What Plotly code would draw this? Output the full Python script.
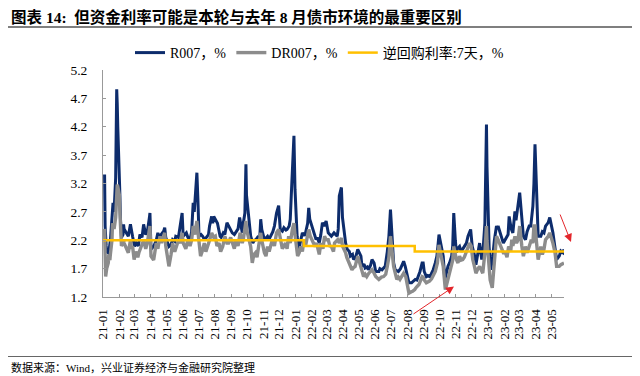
import plotly.graph_objects as go

# ---------------- data ----------------
r007_dates = [
    "2021-01-04","2021-01-05","2021-01-07","2021-01-08","2021-01-11","2021-01-13","2021-01-15","2021-01-18","2021-01-19","2021-01-20","2021-01-21","2021-01-22","2021-01-25","2021-01-26","2021-01-27","2021-01-28","2021-01-29","2021-02-01","2021-02-02","2021-02-03","2021-02-05",
    "2021-02-08","2021-02-09","2021-02-10","2021-02-18","2021-02-22","2021-02-24","2021-02-26",
    "2021-03-02","2021-03-05","2021-03-09","2021-03-12","2021-03-16","2021-03-19","2021-03-23","2021-03-26","2021-03-30","2021-03-31",
    "2021-04-02","2021-04-07","2021-04-12","2021-04-15","2021-04-19","2021-04-21","2021-04-26","2021-04-28","2021-04-30",
    "2021-05-06","2021-05-10","2021-05-13","2021-05-17","2021-05-19","2021-05-24","2021-05-27","2021-05-31",
    "2021-06-02","2021-06-08","2021-06-11","2021-06-15","2021-06-18","2021-06-21","2021-06-23","2021-06-25","2021-06-28","2021-06-30",
    "2021-07-02","2021-07-06","2021-07-09","2021-07-13","2021-07-15","2021-07-20","2021-07-22","2021-07-26","2021-07-28","2021-07-30",
    "2021-08-03","2021-08-06","2021-08-11","2021-08-13","2021-08-17","2021-08-20","2021-08-24","2021-08-27","2021-08-31",
    "2021-09-03","2021-09-07","2021-09-09","2021-09-14","2021-09-17","2021-09-22","2021-09-24","2021-09-27","2021-09-29","2021-09-30",
    "2021-10-08","2021-10-12","2021-10-15","2021-10-18","2021-10-21","2021-10-25","2021-10-27","2021-10-29",
    "2021-11-03","2021-11-09","2021-11-12","2021-11-15","2021-11-19","2021-11-22","2021-11-26","2021-11-30",
    "2021-12-03","2021-12-07","2021-12-10","2021-12-14","2021-12-16","2021-12-20","2021-12-22","2021-12-24","2021-12-27","2021-12-29","2021-12-31",
    "2022-01-04","2022-01-07","2022-01-11","2022-01-14","2022-01-18","2022-01-20","2022-01-24","2022-01-26","2022-01-28",
    "2022-02-07","2022-02-09","2022-02-11","2022-02-15","2022-02-18","2022-02-21","2022-02-24","2022-02-28",
    "2022-03-04","2022-03-08","2022-03-10","2022-03-15","2022-03-18","2022-03-21","2022-03-23","2022-03-25","2022-03-29","2022-03-31",
    "2022-04-06","2022-04-09","2022-04-13","2022-04-15","2022-04-19","2022-04-21","2022-04-25","2022-04-29",
    "2022-05-05","2022-05-07","2022-05-11","2022-05-13","2022-05-17","2022-05-19","2022-05-23","2022-05-26","2022-05-30",
    "2022-06-02","2022-06-08","2022-06-10","2022-06-14","2022-06-17","2022-06-20","2022-06-24","2022-06-27","2022-06-30",
    "2022-07-04","2022-07-06","2022-07-09","2022-07-13","2022-07-15","2022-07-19","2022-07-21","2022-07-25","2022-07-28",
    "2022-08-01","2022-08-04","2022-08-09","2022-08-12","2022-08-16","2022-08-19","2022-08-22","2022-08-25","2022-08-29","2022-08-31",
    "2022-09-02","2022-09-06","2022-09-09","2022-09-13","2022-09-16","2022-09-19","2022-09-23","2022-09-26","2022-09-28","2022-09-30",
    "2022-10-08","2022-10-11","2022-10-14","2022-10-17","2022-10-20","2022-10-24","2022-10-26","2022-10-28","2022-10-31",
    "2022-11-02","2022-11-04","2022-11-08","2022-11-11","2022-11-14","2022-11-17","2022-11-21","2022-11-24","2022-11-29",
    "2022-12-02","2022-12-06","2022-12-09","2022-12-13","2022-12-16","2022-12-20","2022-12-23","2022-12-26","2022-12-27","2022-12-29","2022-12-30",
    "2023-01-03","2023-01-06","2023-01-10","2023-01-13","2023-01-17","2023-01-19","2023-01-20","2023-01-30",
    "2023-02-03","2023-02-08","2023-02-10","2023-02-14","2023-02-17","2023-02-21","2023-02-23","2023-02-27","2023-03-02",
    "2023-03-06","2023-03-09","2023-03-13","2023-03-16","2023-03-20","2023-03-23","2023-03-27","2023-03-29","2023-03-31",
    "2023-04-04","2023-04-06","2023-04-11","2023-04-14","2023-04-17","2023-04-20","2023-04-25","2023-04-28",
    "2023-05-04","2023-05-08","2023-05-11","2023-05-16","2023-05-19","2023-05-23","2023-05-25",
]
r007_values = [
    3.36,2.45,2.10,2.00,1.98,2.05,2.20,2.60,2.70,2.86,2.80,2.70,3.30,4.00,4.86,4.60,4.20,3.50,3.00,2.60,2.25,
    2.30,2.48,2.40,2.27,2.48,2.35,2.27,
    2.09,2.15,2.10,2.30,2.25,2.48,2.30,2.35,2.60,2.68,
    2.04,2.09,2.20,2.33,2.22,2.30,2.36,2.42,2.25,
    2.09,2.12,2.21,2.18,2.27,2.25,2.45,2.68,
    2.27,2.33,2.25,2.21,2.35,2.86,2.70,2.95,3.39,2.90,
    2.27,2.30,2.27,2.20,2.24,2.30,2.45,2.62,2.50,2.62,
    2.55,2.50,2.27,2.25,2.33,2.30,2.51,2.45,2.40,
    2.33,2.30,2.33,2.40,2.60,2.33,2.50,2.68,3.54,3.00,
    2.27,2.15,2.20,2.21,2.25,2.21,2.57,2.39,
    2.21,2.27,2.22,2.27,2.35,2.45,2.68,2.81,
    2.39,2.36,2.42,2.38,2.39,2.45,2.57,3.00,3.80,4.04,3.10,
    2.27,2.04,2.20,2.33,2.28,2.33,2.50,2.77,2.57,
    2.27,2.21,2.25,2.15,2.30,2.51,2.45,2.54,
    2.33,2.30,2.27,2.33,2.30,2.27,2.40,2.98,3.13,2.60,
    2.15,2.04,2.00,1.92,1.95,1.86,1.90,2.04,
    1.92,1.74,1.78,1.71,1.73,1.68,1.75,1.86,1.80,
    1.65,1.65,1.70,1.68,1.72,1.74,2.00,2.27,2.74,
    1.98,1.80,1.68,1.66,1.65,1.70,1.74,1.83,1.74,
    1.60,1.45,1.45,1.48,1.51,1.50,1.56,1.65,1.80,1.80,
    1.65,1.56,1.58,1.56,1.62,1.68,1.80,1.92,2.10,2.30,
    1.92,1.51,1.62,1.74,1.80,1.92,2.10,2.68,2.20,
    1.98,2.05,2.09,2.00,2.04,2.10,2.15,2.27,2.39,
    2.09,1.95,1.77,2.00,2.15,1.86,2.09,2.50,3.27,4.24,3.50,
    2.09,1.68,1.92,2.20,2.45,2.40,2.45,2.15,
    2.21,2.30,2.62,2.40,2.33,2.71,2.55,2.80,3.04,
    2.60,2.27,2.21,2.35,2.45,2.45,2.80,3.20,3.89,
    2.60,2.27,2.27,2.35,2.33,2.45,2.51,2.60,
    2.33,2.09,1.86,1.92,2.01,1.98,2.04,
]

dr007_dates = [
    "2021-01-04","2021-01-05","2021-01-06","2021-01-08","2021-01-11","2021-01-12","2021-01-14","2021-01-15","2021-01-18","2021-01-19","2021-01-21","2021-01-22","2021-01-25","2021-01-26","2021-01-27","2021-01-28","2021-01-29","2021-02-01","2021-02-02","2021-02-03","2021-02-05",
    "2021-02-08","2021-02-09","2021-02-10","2021-02-18","2021-02-22","2021-02-24","2021-02-26",
    "2021-03-01","2021-03-04","2021-03-08","2021-03-10","2021-03-15","2021-03-19","2021-03-23","2021-03-26","2021-03-31",
    "2021-04-02","2021-04-07","2021-04-12","2021-04-15","2021-04-19","2021-04-22","2021-04-28","2021-04-30",
    "2021-05-06","2021-05-10","2021-05-13","2021-05-17","2021-05-20","2021-05-24","2021-05-27","2021-05-31",
    "2021-06-02","2021-06-07","2021-06-11","2021-06-15","2021-06-18","2021-06-21","2021-06-24","2021-06-28","2021-06-30",
    "2021-07-02","2021-07-05","2021-07-08","2021-07-12","2021-07-15","2021-07-19","2021-07-22","2021-07-26","2021-07-30",
    "2021-08-02","2021-08-05","2021-08-09","2021-08-12","2021-08-16","2021-08-20","2021-08-24","2021-08-27","2021-08-31",
    "2021-09-03","2021-09-07","2021-09-10","2021-09-14","2021-09-18","2021-09-22","2021-09-24","2021-09-29","2021-09-30",
    "2021-10-08","2021-10-11","2021-10-14","2021-10-17","2021-10-20","2021-10-23","2021-10-27","2021-10-29",
    "2021-11-03","2021-11-06","2021-11-09","2021-11-12","2021-11-18","2021-11-22","2021-11-26","2021-11-30",
    "2021-12-03","2021-12-07","2021-12-13","2021-12-16","2021-12-19","2021-12-22","2021-12-26","2021-12-29","2021-12-31",
    "2022-01-05","2022-01-08","2022-01-11","2022-01-14","2022-01-17","2022-01-20","2022-01-26","2022-01-29",
    "2022-02-07","2022-02-10","2022-02-12","2022-02-15","2022-02-18","2022-02-22","2022-02-25","2022-02-28",
    "2022-03-04","2022-03-07","2022-03-10","2022-03-14","2022-03-16","2022-03-22","2022-03-25","2022-03-29","2022-03-31",
    "2022-04-06","2022-04-08","2022-04-12","2022-04-15","2022-04-18","2022-04-21","2022-04-24","2022-04-29",
    "2022-05-05","2022-05-10","2022-05-13","2022-05-16","2022-05-20","2022-05-26","2022-05-30",
    "2022-06-02","2022-06-08","2022-06-13","2022-06-17","2022-06-21","2022-06-24","2022-06-27","2022-06-30",
    "2022-07-04","2022-07-06","2022-07-12","2022-07-15","2022-07-18","2022-07-22","2022-07-25","2022-07-29",
    "2022-08-02","2022-08-04","2022-08-08","2022-08-11","2022-08-15","2022-08-17","2022-08-23","2022-08-26","2022-08-29","2022-08-31",
    "2022-09-02","2022-09-06","2022-09-12","2022-09-16","2022-09-21","2022-09-23","2022-09-27","2022-09-30",
    "2022-10-08","2022-10-12","2022-10-14","2022-10-17","2022-10-20","2022-10-23","2022-10-26","2022-10-28","2022-10-31",
    "2022-11-02","2022-11-05","2022-11-08","2022-11-11","2022-11-14","2022-11-17","2022-11-20","2022-11-24","2022-11-27","2022-11-30",
    "2022-12-03","2022-12-06","2022-12-09","2022-12-13","2022-12-16","2022-12-19","2022-12-22","2022-12-26","2022-12-29","2022-12-30",
    "2023-01-03","2023-01-05","2023-01-09","2023-01-12","2023-01-15","2023-01-17","2023-01-20","2023-01-30",
    "2023-02-03","2023-02-06","2023-02-09","2023-02-13","2023-02-15","2023-02-17","2023-02-21","2023-02-24","2023-02-27","2023-03-02",
    "2023-03-06","2023-03-09","2023-03-13","2023-03-16","2023-03-20","2023-03-24","2023-03-27","2023-03-29","2023-03-31",
    "2023-04-04","2023-04-06","2023-04-11","2023-04-14","2023-04-17","2023-04-20","2023-04-25","2023-04-28",
    "2023-05-04","2023-05-08","2023-05-11","2023-05-16","2023-05-19","2023-05-23","2023-05-25",
]
dr007_values = [
    2.40,1.90,1.56,1.70,1.80,1.95,1.85,1.95,2.20,2.50,2.45,2.40,2.60,2.90,3.10,3.18,3.15,3.00,2.70,2.50,2.10,
    2.15,2.20,2.15,1.98,2.20,2.05,2.10,
    1.86,2.00,1.90,1.98,2.10,2.20,2.05,2.15,2.45,
    1.92,1.85,2.15,2.05,2.27,2.15,2.33,2.10,
    1.74,1.95,2.15,2.00,2.10,2.20,2.15,2.33,
    2.15,2.05,2.21,2.10,2.20,2.45,2.30,2.54,2.35,
    2.10,1.92,2.00,2.15,2.00,2.10,2.20,2.33,2.25,
    2.27,2.10,2.15,2.00,2.09,2.27,2.15,2.15,2.25,
    2.15,2.05,2.21,2.10,2.33,2.15,2.21,2.54,2.40,
    2.09,1.80,1.95,1.98,1.90,2.09,2.33,2.20,
    1.98,1.92,2.09,2.00,2.21,2.10,2.33,2.39,
    2.21,2.05,2.15,2.05,2.27,2.15,2.39,2.50,2.30,
    1.92,1.98,2.09,2.00,2.21,2.10,2.39,2.27,
    2.09,2.15,2.04,1.95,2.15,2.05,2.27,2.21,
    2.21,2.10,2.09,2.00,2.15,2.21,2.15,2.24,2.10,
    1.98,1.90,1.80,1.75,1.68,1.72,1.74,1.92,
    1.74,1.56,1.60,1.56,1.62,1.68,1.62,
    1.56,1.51,1.55,1.56,1.60,1.74,1.90,2.27,
    1.90,1.74,1.51,1.55,1.51,1.58,1.62,1.56,
    1.40,1.27,1.29,1.30,1.33,1.36,1.42,1.50,1.56,1.55,
    1.50,1.45,1.48,1.52,1.62,1.65,1.80,2.12,
    1.74,1.33,1.40,1.51,1.60,1.74,1.85,2.09,1.95,
    1.86,1.80,1.92,1.85,1.86,1.90,1.98,2.05,2.15,2.10,
    1.86,1.75,1.62,1.70,1.74,1.68,1.62,1.98,2.45,2.20,
    1.74,1.50,1.36,1.74,1.95,2.27,2.21,1.98,
    1.98,1.90,2.09,2.00,2.21,2.10,2.27,2.15,2.21,2.45,
    2.10,1.92,2.09,1.98,2.09,2.21,2.15,2.45,2.45,
    2.10,1.86,2.09,1.95,2.04,2.21,2.27,2.33,
    2.15,1.98,1.74,1.74,1.77,1.78,1.80,
]

rr_dates = ["2021-01-01", "2022-01-17", "2022-08-15", "2023-05-25"]
rr_values = [2.2, 2.1, 2.0, 2.0]

y_ticks = [1.2, 1.7, 2.2, 2.7, 3.2, 3.7, 4.2, 4.7, 5.2]

# ---------------- figure ----------------
SERIF = "Times New Roman, Liberation Serif, Noto Sans CJK SC, serif"
NAVY = "#0D2C6C"
GRAY = "#8C8C8C"
GOLD = "#FFC000"

fig = go.Figure()
fig.add_trace(go.Scatter(x=r007_dates, y=r007_values, mode="lines", name="R007，%",
                         line=dict(color=NAVY, width=3)))
fig.add_trace(go.Scatter(x=dr007_dates, y=dr007_values, mode="lines", name="DR007，%",
                         line=dict(color=GRAY, width=3.4)))
fig.add_trace(go.Scatter(x=rr_dates, y=rr_values, mode="lines", name="逆回购利率:7天，%",
                         line=dict(color=GOLD, width=2.5, shape="hv")))

# the page body adds an 8px offset, so layout is planned in page pixels minus 8
OFF = 8
W, H = 640 - OFF, 376 - OFF
L = 103 - OFF
T = 70 - OFF
R = W - (564 - OFF)
B = H - (297 - OFF)
pw, ph = W - L - R, H - T - B

def px(xp):          # page pixel -> paper x
    return (xp - OFF - L) / pw

def py(yp):          # page pixel -> paper y
    return (H - B - (yp - OFF)) / ph

fig.update_layout(
    width=W, height=H,
    margin=dict(l=L, r=R, t=T, b=B, autoexpand=False),
    paper_bgcolor="white", plot_bgcolor="white",
    font=dict(family=SERIF, color="#000000", size=12),
    showlegend=True,
    legend=dict(orientation="h", xref="container", x=(130 - OFF) / W, xanchor="left",
                yref="container", y=1 - (53 - OFF) / H, yanchor="middle",
                font=dict(family=SERIF, size=14), bgcolor="rgba(0,0,0,0)",
                itemwidth=30, tracegroupgap=0),
    xaxis=dict(type="date", range=["2021-01-01", "2023-05-25"], automargin=False,
               tick0="2021-01-01", dtick="M1", tickformat="%y-%m", tickangle=-90,
               ticks="inside", ticklen=3, tickcolor="#999999",
               showline=True, linecolor="#999999", linewidth=1,
               showgrid=False, zeroline=False,
               tickfont=dict(family=SERIF, size=13, color="#000000"),
               ticklabelstandoff=6),
    yaxis=dict(range=[1.2, 5.2], tickvals=y_ticks, ticktext=[f"{v:.1f}" for v in y_ticks],
               automargin=False,
               ticks="inside", ticklen=3, tickcolor="#999999",
               showline=True, linecolor="#999999", linewidth=1,
               showgrid=False, zeroline=False,
               tickfont=dict(family=SERIF, size=13.5, color="#000000"),
               ticklabelstandoff=12),
)

# title
fig.add_annotation(text="<b>图表 14:  但资金利率可能是本轮与去年 8 月债市环境的最重要区别</b>",
                   xref="paper", yref="paper", x=px(9), y=py(17), xanchor="left", yanchor="middle",
                   showarrow=False, font=dict(family=SERIF, size=15.5, color="#000000"))

# header / footer rules
fig.add_shape(type="line", xref="paper", yref="paper", x0=px(8), x1=px(640), y0=py(27), y1=py(27),
              line=dict(color="#555555", width=1.5))
fig.add_shape(type="line", xref="paper", yref="paper", x0=px(8), x1=px(640), y0=py(356.5), y1=py(356.5),
              line=dict(color="#666666", width=1.2))

fig.add_annotation(text="数据来源：Wind，兴业证券经济与金融研究院整理", xref="paper", yref="paper",
                   x=px(9), y=py(367), xanchor="left", yanchor="middle", showarrow=False,
                   font=dict(family=SERIF, size=11, color="#000000"))

# red arrows
fig.add_annotation(xref="paper", yref="paper", x=px(454), y=py(286.5), ax=412 - 454, ay=315 - 286.5,
                   text="", showarrow=True, arrowhead=2, arrowsize=1.6, arrowwidth=1,
                   arrowcolor="#E3262B", standoff=0)
fig.add_annotation(xref="paper", yref="paper", x=px(571), y=py(242), ax=559.5 - 571, ay=213 - 242,
                   text="", showarrow=True, arrowhead=2, arrowsize=1.6, arrowwidth=1,
                   arrowcolor="#E3262B", standoff=0)

fig.write_html("out.html")
